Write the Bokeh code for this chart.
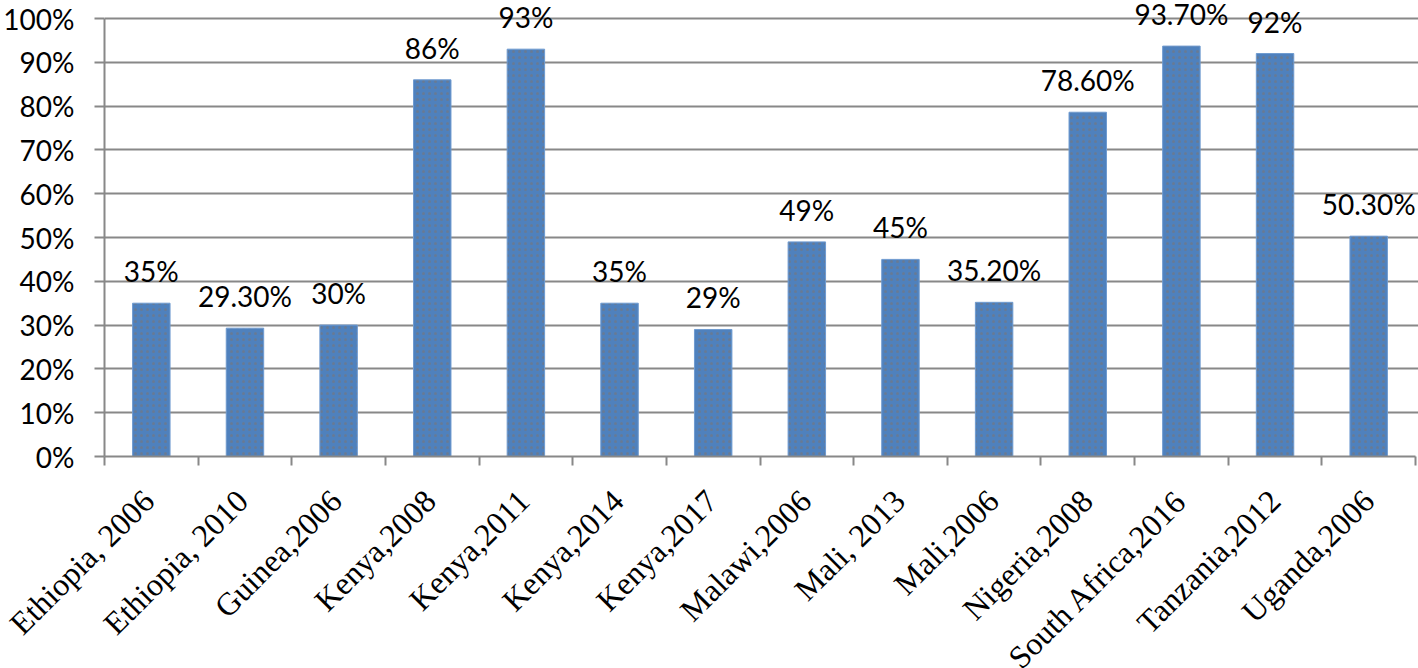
import math
from bokeh.plotting import figure
from bokeh.layouts import column
from bokeh.models import (ColumnDataSource, Range1d, FixedTicker, NumeralTickFormatter,
                          LinearAxis, LabelSet)
from bokeh.core.properties import value
from bokeh.embed import file_html
from bokeh.resources import INLINE

categories = ["Ethiopia, 2006", "Ethiopia, 2010", "Guinea,2006", "Kenya,2008", "Kenya,2011",
              "Kenya,2014", "Kenya,2017", "Malawi,2006", "Mali, 2013", "Mali,2006",
              "Nigeria,2008", "South Africa,2016", "Tanzania,2012", "Uganda,2006"]
values = [0.35, 0.293, 0.30, 0.86, 0.93, 0.35, 0.29, 0.49, 0.45, 0.352, 0.786, 0.937, 0.92, 0.503]
value_labels = ["35%", "29.30%", "30%", "86%", "93%", "35%", "29%", "49%", "45%", "35.20%",
                "78.60%", "93.70%", "92%", "50.30%"]
y_ticks = [0.0, 0.1, 0.2, 0.3, 0.4, 0.5, 0.6, 0.7, 0.8, 0.9, 1.0]

n = len(categories)
xs = list(range(1, n + 1))

# geometry (pixels)
W = 1418
LEFT = 101          # frame left (x-axis start)
RIGHT_PAD = 3       # space right of the last category
TOP_PAD = 18        # space above the 100% line
PLOT_H = 438        # 0%..100% height
AXIS_PANEL = 20
LABEL_H = 668 - (TOP_PAD + PLOT_H + AXIS_PANEL)
upx = (W - LEFT - RIGHT_PAD) / n

x0, x1 = 0.5, n + 0.5
ymax = y_ticks[-1]

src = ColumnDataSource(dict(x=xs, top=values, lab=value_labels))

GRID = "#888888"

p = figure(width=W, height=TOP_PAD + PLOT_H + AXIS_PANEL, output_backend="svg",
           toolbar_location=None,
           x_range=Range1d(x0, x1 + RIGHT_PAD / upx),
           y_range=Range1d(0, ymax * (1 + TOP_PAD / PLOT_H)),
           x_axis_location=None, y_axis_location=None,
           min_border_left=LEFT, min_border_right=0, min_border_top=0,
           min_border_bottom=AXIS_PANEL)
p.frame_align = False
p.outline_line_color = None
p.background_fill_color = "white"
p.border_fill_color = "white"

p.vbar(x="x", top="top", width=0.4, bottom=0, source=src,
       fill_color="#4F81BD", line_color="#6F9BD0", line_width=1,
       hatch_pattern="dot", hatch_color="#9C6B3A", hatch_alpha=0.3, hatch_scale=6, hatch_weight=1)

labels = LabelSet(x="x", y="top", text="lab", source=src, text_align="center",
                  text_baseline="alphabetic", y_offset=21, text_font=value("Lato"),
                  text_font_size="28px", text_color="black")
p.add_layout(labels)

yaxis = LinearAxis(ticker=FixedTicker(ticks=y_ticks), formatter=NumeralTickFormatter(format="0%"))
yaxis.bounds = (y_ticks[0], y_ticks[-1])
yaxis.axis_line_color = GRID
yaxis.axis_line_width = 2
yaxis.major_tick_line_color = GRID
yaxis.major_tick_line_width = 2
yaxis.major_tick_out = 10
yaxis.major_tick_in = 0
yaxis.minor_tick_line_color = None
yaxis.major_label_standoff = 20
yaxis.major_label_text_font = "Lato"
yaxis.major_label_text_font_size = "28px"
yaxis.major_label_text_color = "black"
p.add_layout(yaxis, "left")

xaxis = LinearAxis(ticker=FixedTicker(ticks=[], minor_ticks=[x - 0.5 for x in xs] + [x1]))
xaxis.bounds = (x0, x1)
xaxis.axis_line_color = GRID
xaxis.axis_line_width = 2
xaxis.major_tick_line_color = None
xaxis.minor_tick_line_color = GRID
xaxis.minor_tick_line_width = 2
xaxis.minor_tick_out = 9
xaxis.minor_tick_in = 0
p.add_layout(xaxis, "below")

p.xgrid.grid_line_color = None
p.ygrid.ticker = FixedTicker(ticks=y_ticks)
p.ygrid.grid_line_color = GRID
p.ygrid.grid_line_width = 2

# category labels (rotated), in a strip below the chart sharing the same x scale
src2 = ColumnDataSource(dict(x=xs, cat=categories, base=[1.0] * n))
q = figure(width=W, height=LABEL_H, output_backend="svg", toolbar_location=None,
           x_range=Range1d(x0 - LEFT / upx, x1 + RIGHT_PAD / upx), y_range=Range1d(0, 1.0),
           x_axis_location=None, y_axis_location=None,
           min_border_left=0, min_border_right=0, min_border_top=0, min_border_bottom=0)
q.frame_align = False
q.outline_line_color = None
q.xgrid.grid_line_color = None
q.ygrid.grid_line_color = None
q.background_fill_color = "white"
q.border_fill_color = "white"
cat_labels = LabelSet(x="x", y="base", text="cat", source=src2, text_align="right",
                      text_baseline="middle", angle=math.pi / 4, x_offset=0, y_offset=-19,
                      text_font=value("Liberation Serif"), text_font_size="32px",
                      text_color="black")
q.add_layout(cat_labels)

layout = column(p, q, spacing=0)
open("out.html", "w").write(file_html(layout, INLINE))
